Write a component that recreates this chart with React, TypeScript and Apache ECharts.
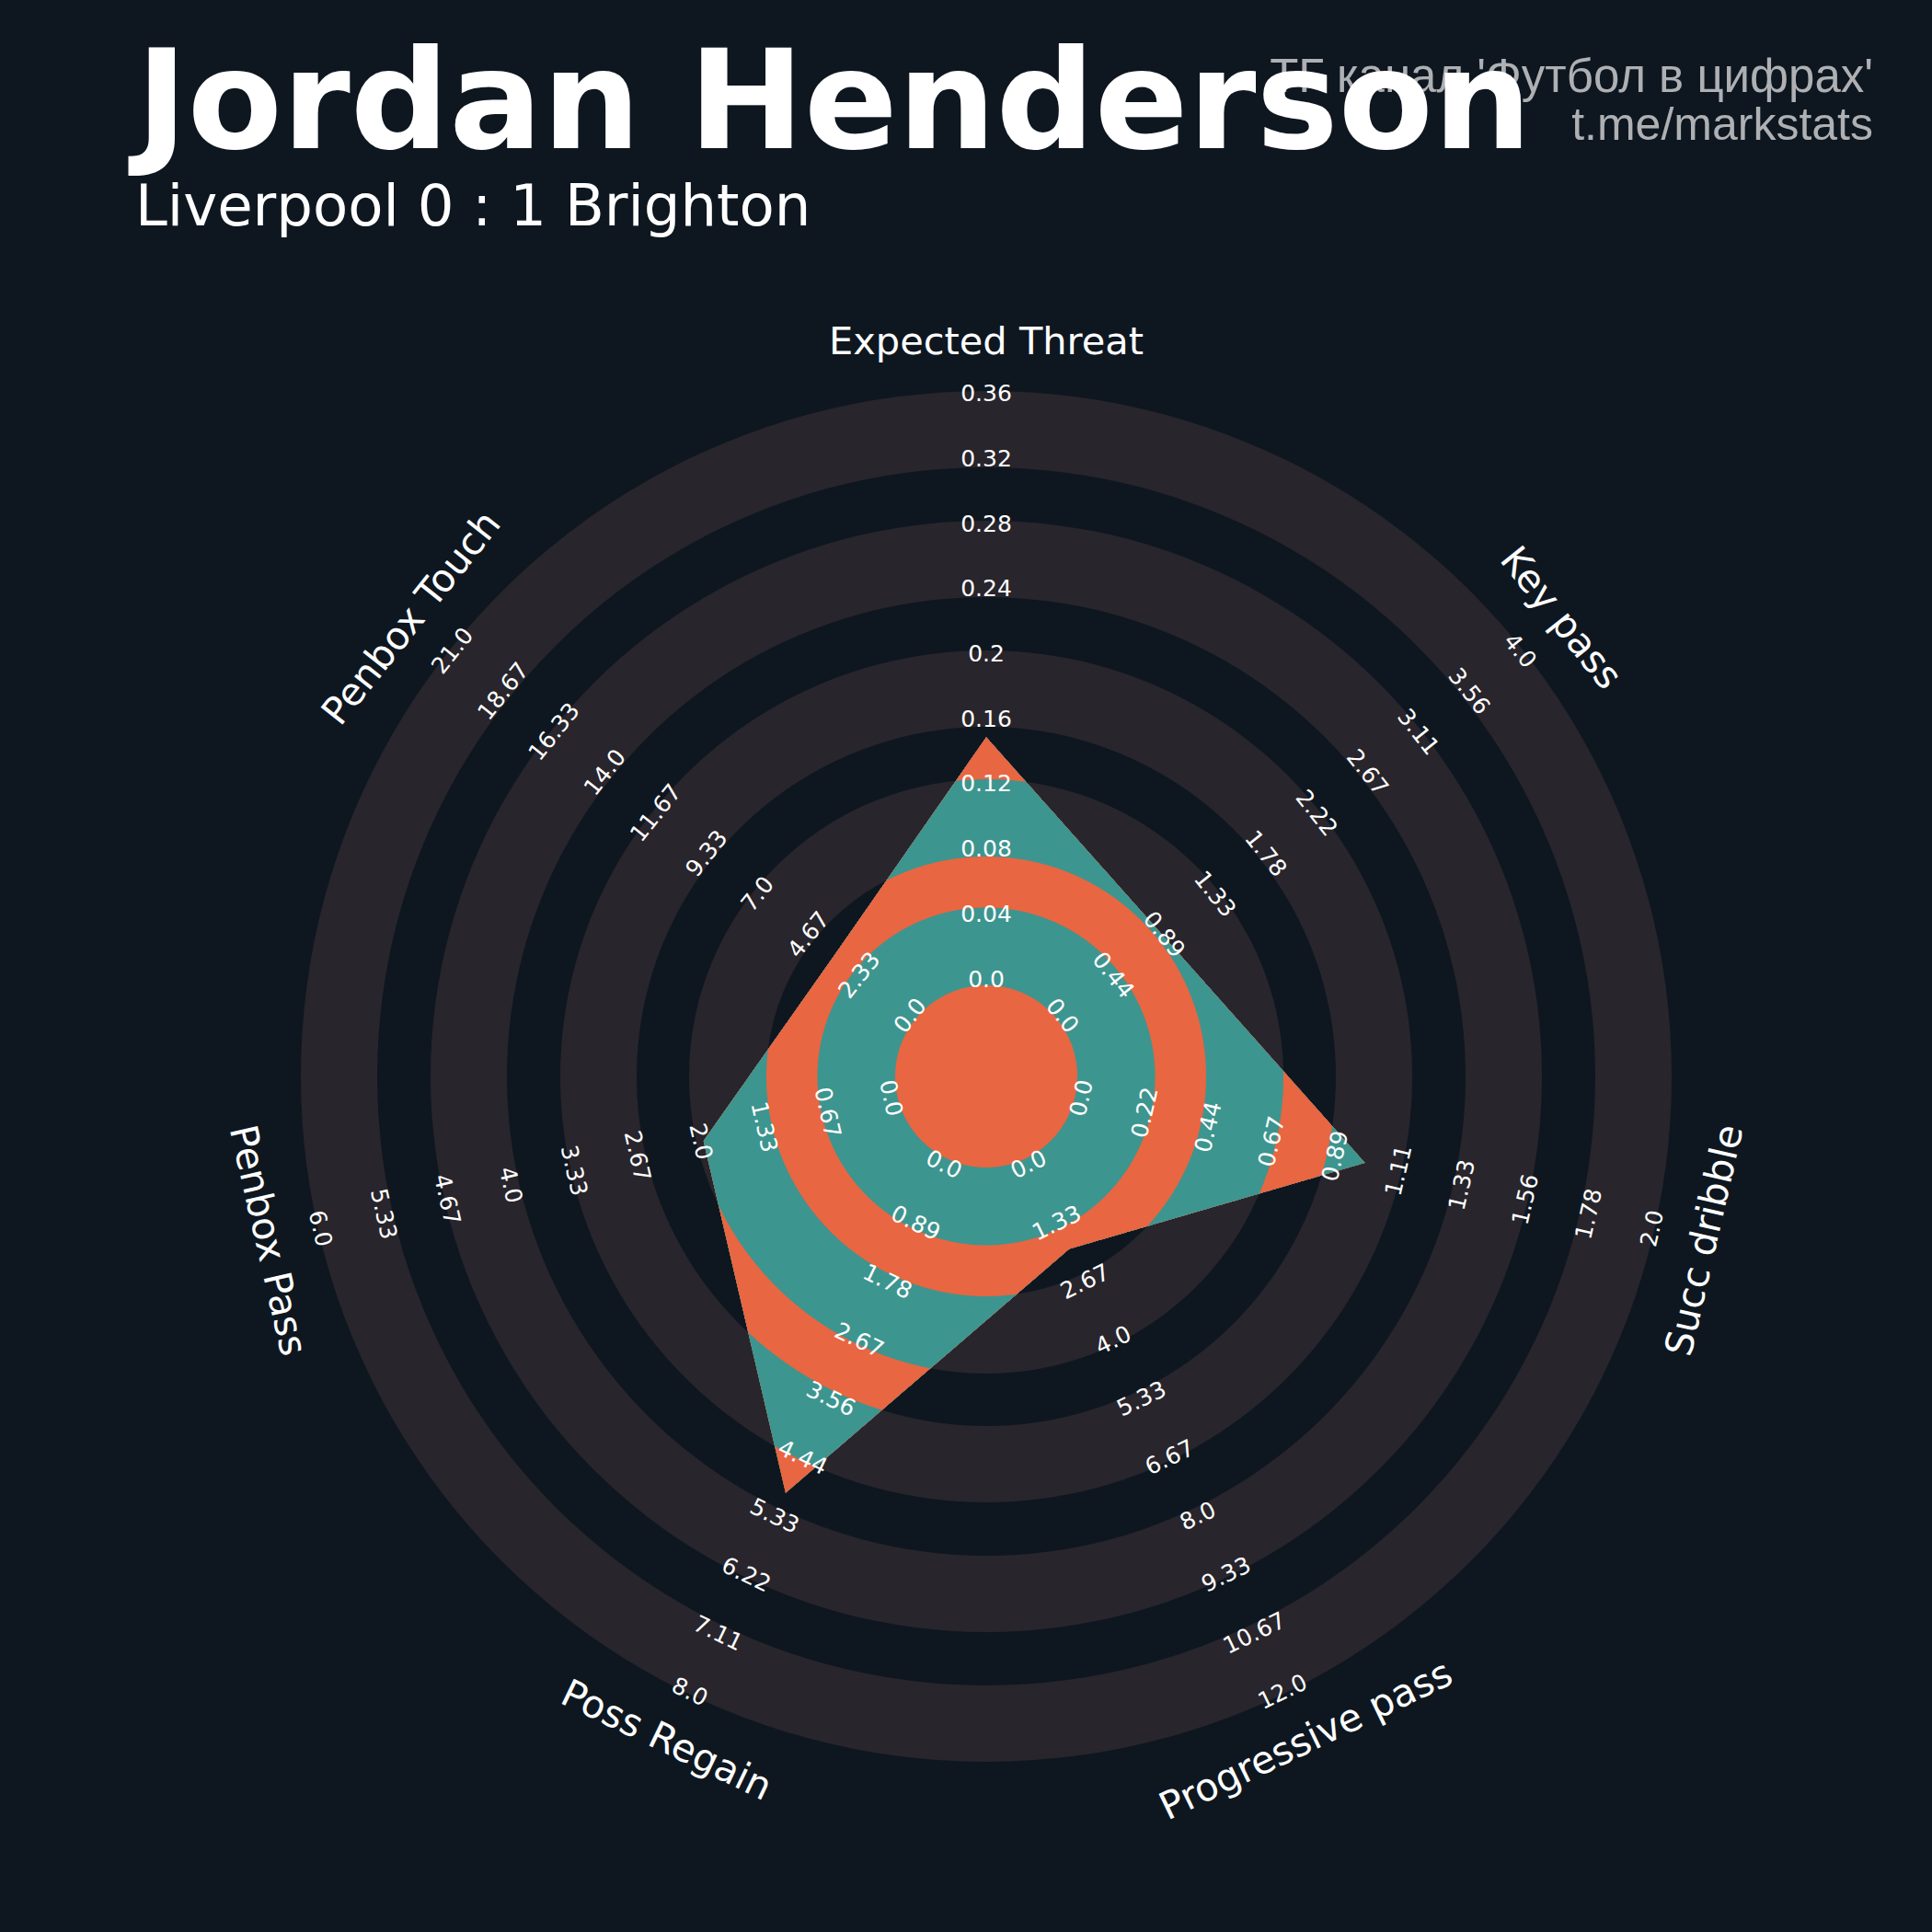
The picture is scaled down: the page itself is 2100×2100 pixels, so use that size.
import React, { useEffect, useRef } from "react";
import * as echarts from "echarts";

// ---------------- data ----------------
const params = [
  "Expected Threat",
  "Key pass",
  "Succ dribble",
  "Progressive pass",
  "Poss Regain",
  "Penbox Pass",
  "Penbox Touch",
];
const minRange = [0, 0, 0, 0, 0, 0, 0];
const maxRange = [0.36, 4.0, 2.0, 12.0, 8.0, 6.0, 21.0];
const playerValues = [0.15, 0.9, 1.0, 2.0, 5.0, 2.0, 3.6];

const rangeLabels = [
  ["0.0", "0.04", "0.08", "0.12", "0.16", "0.2", "0.24", "0.28", "0.32", "0.36"],
  ["0.0", "0.44", "0.89", "1.33", "1.78", "2.22", "2.67", "3.11", "3.56", "4.0"],
  ["0.0", "0.22", "0.44", "0.67", "0.89", "1.11", "1.33", "1.56", "1.78", "2.0"],
  ["0.0", "1.33", "2.67", "4.0", "5.33", "6.67", "8.0", "9.33", "10.67", "12.0"],
  ["0.0", "0.89", "1.78", "2.67", "3.56", "4.44", "5.33", "6.22", "7.11", "8.0"],
  ["0.0", "0.67", "1.33", "2.0", "2.67", "3.33", "4.0", "4.67", "5.33", "6.0"],
  ["0.0", "2.33", "4.67", "7.0", "9.33", "11.67", "14.0", "16.33", "18.67", "21.0"],
];

const titleText = "Jordan Henderson";
const subtitleText = "Liverpool 0 : 1 Brighton";
const creditLines = ["ТГ канал 'Футбол в цифрах'", "t.me/markstats"];

// ---------------- layout / style ----------------
const W = 2100;
const H = 2100;
const CX = 1072;
const CY = 1170;
const R_OUT = 745; // outer ring edge (px)
const R_ZERO = 101; // radius of the range minimum (px)
const R_MAX = 743.5; // radius of the range maximum (px)
const SPAN = R_MAX - R_ZERO;
const F_MIN = -R_ZERO / SPAN;
const F_MAX = (R_OUT - R_ZERO) / SPAN;
const RING_IN = [99, 239, 380, 521, 662];
const RING_OUT = [183.5, 323, 463, 604, 745];
const PARAM_R = 800;
const LABEL_R0 = 106;
const LABEL_STEP = 70.7;

const BG = "#0e1720";
const RING = "#28252c";
const TEAL = "#3d958f";
const ORANGE = "#e86641";

const FONT = '"DejaVu Sans", sans-serif';

function textRot(angDeg: number) {
  let r = -angDeg;
  while (r <= -180) r += 360;
  while (r > 180) r -= 360;
  if (r < -90) r += 180;
  if (r > 90) r -= 180;
  return (r * Math.PI) / 180;
}

export default function App() {
  const ref = useRef<HTMLDivElement>(null);

  useEffect(() => {
    if (!ref.current) return;
    const chart = echarts.init(ref.current, null, { renderer: "svg", width: W, height: H });
    const nAx = params.length;
    const axisAngles = params.map((_, i) => (i * 360) / nAx);

    const renderItem = (_p: any, api: any) => {
      const c = api.coord([F_MIN, 0]);
      const dirOf = (ang: number) => {
        const q = api.coord([F_MAX, ang]);
        const dx = q[0] - c[0];
        const dy = q[1] - c[1];
        const L = Math.hypot(dx, dy);
        return [dx / L, dy / L];
      };
      const verts = playerValues.map((v, i) =>
        api.coord([(v - minRange[i]) / (maxRange[i] - minRange[i]), axisAngles[i]])
      );
      const samples: { d: number[]; rp: number }[] = [];
      for (let i = 0; i < nAx; i++) {
        const a0 = axisAngles[i];
        const a1 = i + 1 < nAx ? axisAngles[i + 1] : 360;
        const P = verts[i];
        const Q = verts[(i + 1) % nAx];
        const E = [Q[0] - P[0], Q[1] - P[1]];
        const Wv = [P[0] - c[0], P[1] - c[1]];
        const steps = 240;
        for (let k = 0; k < steps; k++) {
          const ang = a0 + ((a1 - a0) * k) / steps;
          const d = dirOf(ang);
          const den = d[0] * E[1] - d[1] * E[0];
          const t = (Wv[0] * E[1] - Wv[1] * E[0]) / den;
          samples.push({ d, rp: t });
        }
      }
      const children: any[] = [];
      // background rings
      for (let k = 0; k < RING_IN.length; k++) {
        children.push({
          type: "ring",
          shape: { cx: c[0], cy: c[1], r: RING_OUT[k], r0: RING_IN[k] },
          style: { fill: RING },
        });
      }
      // clipped rings inside the radar polygon
      const layers: { r: number; col: string }[] = [];
      for (let k = RING_IN.length - 1; k >= 0; k--) {
        layers.push({ r: RING_OUT[k], col: TEAL });
        layers.push({ r: RING_IN[k], col: ORANGE });
      }
      for (const layer of layers) {
        const pts = samples.map((s) => {
          const rr = Math.min(layer.r, s.rp);
          return [c[0] + s.d[0] * rr, c[1] + s.d[1] * rr];
        });
        children.push({
          type: "polygon",
          shape: { points: pts },
          style: { fill: layer.col },
        });
      }
      // range labels and parameter names
      for (let k = 0; k < nAx; k++) {
        const rot = textRot(axisAngles[k]);
        const labs = rangeLabels[k];
        const d = dirOf(axisAngles[k]);
        for (let j = 0; j < labs.length; j++) {
          const rr = LABEL_R0 + j * LABEL_STEP;
          children.push({
            type: "text",
            x: c[0] + d[0] * rr,
            y: c[1] + d[1] * rr,
            rotation: rot,
            style: {
              text: labs[j],
              fill: "#ffffff",
              fontSize: 25,
              fontFamily: FONT,
              align: "center",
              verticalAlign: "middle",
              textAlign: "center",
              textVerticalAlign: "middle",
            },
          });
        }
        children.push({
          type: "text",
          x: c[0] + d[0] * PARAM_R,
          y: c[1] + d[1] * PARAM_R,
          rotation: rot,
          style: {
            text: params[k],
            fill: "#ffffff",
            fontSize: 41.5,
            fontFamily: FONT,
            align: "center",
            verticalAlign: "middle",
            textAlign: "center",
            textVerticalAlign: "middle",
          },
        });
      }
      return { type: "group", children };
    };

    chart.setOption({
      animation: false,
      backgroundColor: BG,
      polar: { center: [CX, CY], radius: [0, R_OUT] },
      angleAxis: {
        type: "value",
        min: 0,
        max: 360,
        startAngle: 90,
        clockwise: true,
        show: false,
      },
      radiusAxis: { type: "value", min: F_MIN, max: F_MAX, show: false },
      series: [
        {
          type: "custom",
          coordinateSystem: "polar",
          silent: true,
          data: [[0, 0]],
          renderItem,
        },
      ],
      graphic: [
        {
          type: "text",
          x: 2036,
          y: 100 - 0.346 * 51,
          z: 10,
          style: {
            text: creditLines[0],
            fill: "#aeb0b3",
            fontSize: 51,
            fontFamily: '"Liberation Sans", Arial, sans-serif',
            align: "right",
            verticalAlign: "middle",
            textAlign: "right",
            textVerticalAlign: "middle",
          },
        },
        {
          type: "text",
          x: 2036,
          y: 153 - 0.346 * 51,
          z: 10,
          style: {
            text: creditLines[1],
            fill: "#aeb0b3",
            fontSize: 50,
            fontFamily: '"Liberation Sans", Arial, sans-serif',
            align: "right",
            verticalAlign: "middle",
            textAlign: "right",
            textVerticalAlign: "middle",
          },
        },
        {
          type: "text",
          x: 148,
          y: 161 - 0.346 * 150,
          z: 20,
          style: {
            text: titleText,
            fill: "#ffffff",
            fontSize: 150,
            fontWeight: "bold",
            fontFamily: FONT,
            align: "left",
            verticalAlign: "middle",
            textAlign: "left",
            textVerticalAlign: "middle",
          },
        },
        {
          type: "text",
          x: 147,
          y: 245 - 0.346 * 62.5,
          z: 20,
          style: {
            text: subtitleText,
            fill: "#ffffff",
            fontSize: 62.5,
            fontFamily: FONT,
            align: "left",
            verticalAlign: "middle",
            textAlign: "left",
            textVerticalAlign: "middle",
          },
        },
      ],
    });
    return () => chart.dispose();
  }, []);

  return (
    <div
      ref={ref}
      style={{ position: "absolute", left: 0, top: 0, width: W, height: H }}
    />
  );
}
